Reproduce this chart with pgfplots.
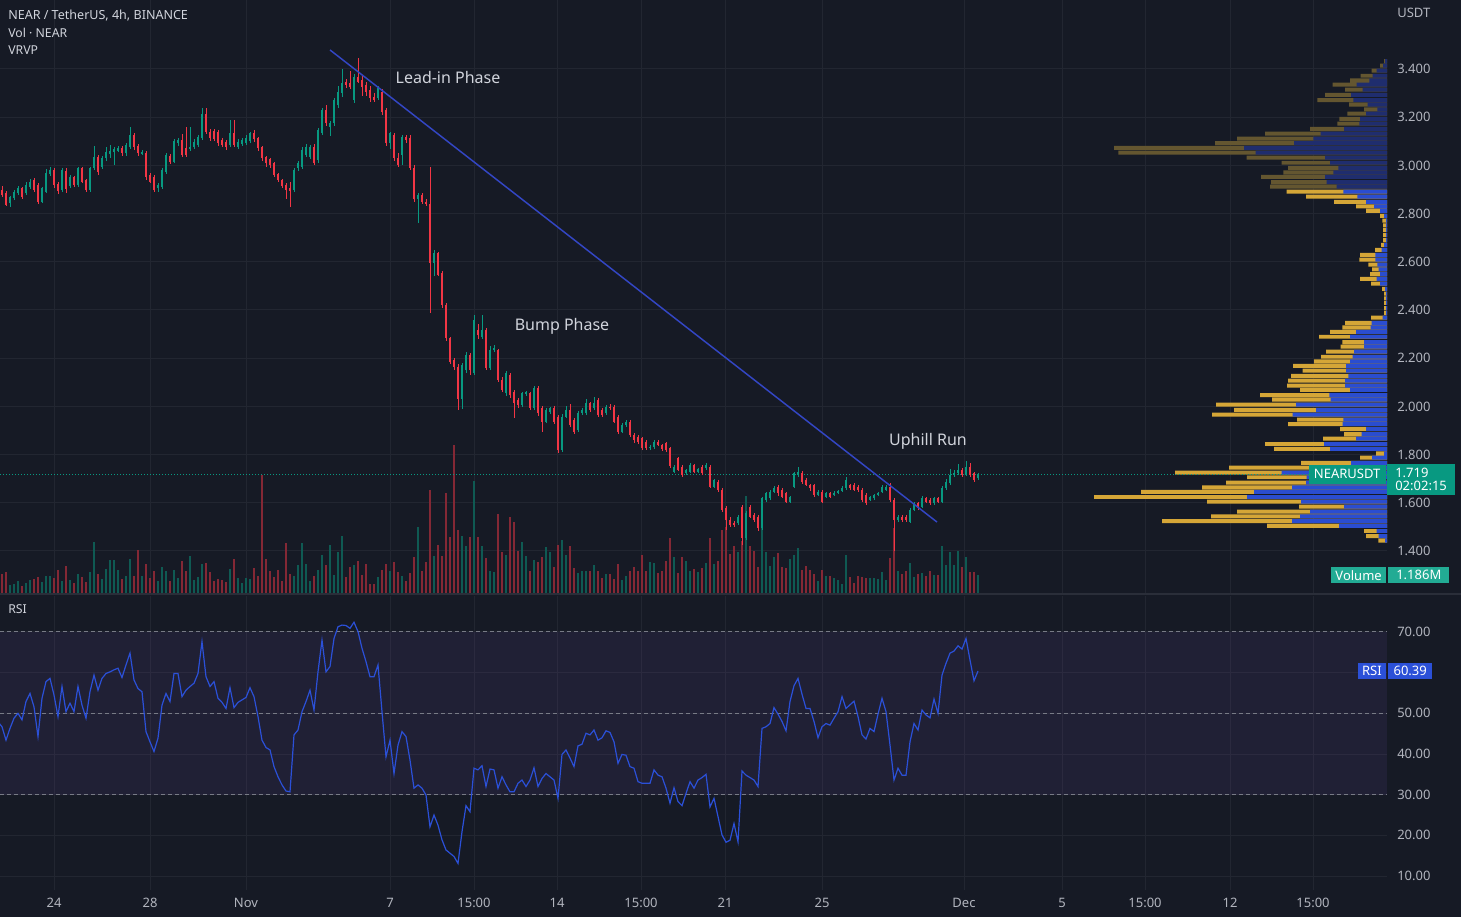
\documentclass[border=0pt]{standalone}
\usepackage{fontspec}
\setmainfont{Noto Sans}
\usepackage{pgfplots}
\usepackage{pgfplotstable}
\pgfplotsset{compat=1.18}
\definecolor{bg}{HTML}{161A25}
\definecolor{gridc}{HTML}{222631}
\definecolor{tickc}{HTML}{B2B5BE}
\definecolor{legc}{HTML}{D1D4DC}
\definecolor{upc}{HTML}{089981}
\definecolor{dnc}{HTML}{F23645}
\definecolor{volup}{HTML}{0F5A53}
\definecolor{voldn}{HTML}{842835}
\definecolor{trendc}{HTML}{3346C4}
\definecolor{rsic}{HTML}{2B50D8}
\definecolor{bandc}{RGB}{126,87,194}
\definecolor{dashc}{HTML}{787B86}
\definecolor{vpy}{HTML}{D5A637}
\definecolor{vpb}{HTML}{2A4DD0}
\definecolor{vpyF}{HTML}{645630}
\definecolor{vpbF}{HTML}{1F2D6E}
\definecolor{volbox}{HTML}{22AB94}
\definecolor{sepc}{HTML}{2A2E39}
\newcommand{\tf}{\fontsize{9.75}{11.7}\selectfont}

\pgfplotstableread{
k o h l c v
-61 2.898 2.915 2.870 2.877 1.27
-60 2.884 2.895 2.830 2.835 1.38
-59 2.843 2.875 2.826 2.870 0.51
-58 2.863 2.898 2.855 2.891 0.60
-57 2.884 2.915 2.878 2.905 0.78
-56 2.905 2.912 2.862 2.870 0.49
-55 2.884 2.930 2.878 2.919 0.67
-54 2.909 2.945 2.902 2.932 0.85
-53 2.939 2.948 2.890 2.898 0.93
-52 2.919 2.925 2.840 2.849 1.05
-51 2.849 2.912 2.842 2.905 0.73
-50 2.891 2.985 2.885 2.970 1.11
-49 2.964 2.995 2.955 2.981 1.11
-48 2.981 2.990 2.905 2.919 1.00
-47 2.923 2.930 2.880 2.895 1.55
-46 2.898 2.990 2.890 2.981 0.78
-45 2.978 2.988 2.885 2.900 1.78
-44 2.914 2.960 2.905 2.950 0.89
-43 2.950 2.958 2.910 2.919 0.67
-42 2.919 2.995 2.910 2.988 1.27
-41 2.988 2.995 2.925 2.932 1.05
-40 2.939 2.945 2.890 2.898 0.73
-39 2.898 2.995 2.890 2.988 1.38
-38 2.988 3.080 2.980 3.036 3.40
-37 3.036 3.045 2.960 2.974 1.27
-36 2.995 3.040 2.985 3.029 0.95
-35 3.029 3.075 3.020 3.057 1.62
-34 3.047 3.085 3.030 3.061 2.22
-33 3.057 3.075 3.000 3.066 2.22
-32 3.061 3.080 3.055 3.071 1.55
-31 3.071 3.080 3.040 3.050 0.95
-30 3.050 3.095 3.040 3.085 1.13
-29 3.078 3.160 3.070 3.126 2.27
-28 3.126 3.135 3.065 3.078 1.15
-27 3.080 3.090 3.040 3.050 2.89
-26 3.050 3.065 3.045 3.057 1.11
-25 3.053 3.060 2.940 2.953 1.93
-24 2.960 2.968 2.925 2.932 1.00
-23 2.953 2.960 2.890 2.898 1.49
-22 2.905 2.925 2.890 2.919 0.78
-21 2.909 2.990 2.900 2.981 1.71
-20 2.974 3.050 2.965 3.043 1.45
-19 3.039 3.048 3.005 3.015 0.82
-18 3.015 3.110 3.008 3.103 1.55
-17 3.091 3.112 3.080 3.105 1.00
-16 3.105 3.130 3.035 3.043 2.11
-15 3.071 3.160 3.035 3.043 1.45
-14 3.066 3.160 3.058 3.078 2.47
-13 3.078 3.108 3.070 3.098 0.89
-12 3.085 3.125 3.078 3.116 1.05
-11 3.112 3.240 3.105 3.213 1.93
-10 3.213 3.240 3.130 3.140 2.00
-9 3.140 3.150 3.100 3.112 1.38
-8 3.144 3.150 3.100 3.108 0.78
-7 3.140 3.148 3.080 3.094 0.95
-6 3.105 3.112 3.075 3.085 0.89
-5 3.098 3.105 3.065 3.078 0.73
-4 3.085 3.190 3.078 3.133 1.60
-3 3.133 3.188 3.075 3.085 2.29
-2 3.078 3.108 3.070 3.098 1.00
-1 3.089 3.115 3.080 3.105 0.67
0 3.094 3.125 3.085 3.112 1.00
1 3.102 3.140 3.095 3.133 0.95
2 3.133 3.145 3.098 3.108 1.67
3 3.112 3.118 3.060 3.071 1.11
4 3.075 3.082 3.020 3.029 7.87
5 3.033 3.040 2.995 3.008 2.27
6 3.025 3.030 2.990 3.001 1.45
7 3.008 3.015 2.950 2.960 1.05
8 2.964 2.970 2.930 2.939 1.53
9 2.939 2.945 2.905 2.914 0.78
10 2.919 2.925 2.860 2.898 3.33
11 2.905 2.930 2.826 2.895 1.27
12 2.898 2.990 2.890 2.981 1.11
13 2.988 3.020 2.975 3.009 1.85
14 2.995 3.075 2.985 3.064 3.33
15 3.043 3.090 3.035 3.078 1.93
16 3.036 3.085 3.025 3.078 0.78
17 3.078 3.090 3.000 3.009 1.11
18 3.022 3.155 3.010 3.147 1.55
19 3.133 3.240 3.125 3.230 2.55
20 3.230 3.250 3.165 3.175 1.85
21 3.161 3.185 3.120 3.175 3.22
22 3.175 3.280 3.165 3.271 1.22
23 3.251 3.330 3.240 3.306 2.73
24 3.299 3.400 3.285 3.340 3.78
25 3.347 3.360 3.320 3.334 1.05
26 3.343 3.390 3.315 3.327 1.75
27 3.271 3.380 3.260 3.368 1.89
28 3.368 3.444 3.340 3.347 2.11
29 3.354 3.370 3.290 3.327 1.22
30 3.334 3.345 3.290 3.306 1.93
31 3.313 3.330 3.265 3.278 0.60
32 3.285 3.300 3.262 3.271 0.60
33 3.278 3.330 3.270 3.320 1.05
34 3.306 3.315 3.210 3.223 1.55
35 3.230 3.240 3.080 3.092 1.93
36 3.092 3.140 3.070 3.133 1.49
37 3.126 3.135 3.020 3.030 2.05
38 3.030 3.050 2.995 3.002 1.38
39 3.043 3.125 3.000 3.119 1.11
40 3.119 3.128 3.095 3.106 0.78
41 3.112 3.125 2.980 2.990 1.33
42 2.990 3.000 2.850 2.860 2.38
43 2.860 2.885 2.760 2.877 4.38
44 2.877 2.885 2.840 2.850 1.45
45 2.850 2.860 2.830 2.840 2.05
46 2.840 2.995 2.387 2.595 6.87
47 2.595 2.650 2.540 2.635 2.45
48 2.635 2.640 2.540 2.545 3.22
49 2.552 2.560 2.410 2.421 2.45
50 2.421 2.430 2.270 2.282 6.67
51 2.282 2.290 2.175 2.186 3.71
52 2.193 2.200 2.150 2.165 9.85
53 2.165 2.175 1.985 2.030 4.22
54 2.030 2.180 1.990 2.170 3.78
55 2.150 2.225 2.140 2.213 3.11
56 2.213 2.220 2.130 2.151 3.71
57 2.137 2.380 2.130 2.358 7.45
58 2.317 2.340 2.280 2.296 3.71
59 2.290 2.380 2.280 2.317 3.11
60 2.317 2.325 2.150 2.158 2.33
61 2.158 2.250 2.150 2.234 1.49
62 2.234 2.255 2.225 2.241 1.38
63 2.234 2.240 2.100 2.110 5.27
64 2.110 2.120 2.060 2.068 2.73
65 2.054 2.145 2.045 2.137 2.55
66 2.130 2.140 2.035 2.047 5.05
67 2.061 2.070 1.950 2.013 4.71
68 2.026 2.035 1.995 2.006 2.78
69 2.006 2.060 1.998 2.054 3.38
70 2.054 2.065 2.045 2.058 2.45
71 2.054 2.060 1.985 1.992 1.49
72 1.992 2.085 1.985 2.075 2.22
73 2.075 2.085 1.960 1.971 2.07
74 1.992 2.000 1.895 1.937 2.38
75 1.937 1.995 1.930 1.985 3.05
76 1.978 1.998 1.970 1.992 2.71
77 1.992 2.000 1.925 1.937 1.71
78 1.957 1.965 1.805 1.819 3.22
79 1.819 1.970 1.810 1.957 3.51
80 1.957 2.000 1.950 1.985 2.55
81 1.985 2.010 1.915 1.923 3.11
82 1.944 1.950 1.885 1.895 1.67
83 1.902 1.980 1.895 1.971 1.33
84 1.971 1.995 1.965 1.985 1.49
85 1.971 2.030 1.965 2.013 1.45
86 2.013 2.020 1.978 1.985 1.49
87 1.992 2.040 1.985 2.013 1.85
88 2.026 2.035 1.955 1.964 1.49
89 1.985 1.995 1.955 1.964 1.00
90 1.971 2.005 1.965 1.999 1.29
91 1.999 2.012 1.985 1.992 1.27
92 1.999 2.005 1.930 1.937 0.93
93 1.957 1.965 1.885 1.895 1.93
94 1.895 1.930 1.888 1.923 0.89
95 1.923 1.945 1.915 1.937 1.11
96 1.937 1.942 1.875 1.881 1.45
97 1.881 1.888 1.850 1.861 1.71
98 1.874 1.880 1.845 1.854 1.49
99 1.867 1.872 1.818 1.826 2.51
100 1.854 1.860 1.820 1.826 1.45
101 1.826 1.840 1.820 1.833 2.05
102 1.830 1.862 1.825 1.854 2.00
103 1.854 1.860 1.835 1.840 1.33
104 1.840 1.845 1.815 1.822 1.49
105 1.847 1.852 1.812 1.819 2.15
106 1.826 1.832 1.745 1.753 3.67
107 1.729 1.758 1.722 1.750 2.38
108 1.784 1.790 1.730 1.736 1.33
109 1.750 1.755 1.708 1.715 2.38
110 1.722 1.742 1.715 1.736 2.11
111 1.729 1.765 1.722 1.757 1.45
112 1.757 1.762 1.722 1.729 1.62
113 1.729 1.745 1.722 1.740 1.38
114 1.750 1.758 1.715 1.722 1.67
115 1.743 1.765 1.738 1.757 2.00
116 1.750 1.758 1.660 1.667 3.67
117 1.667 1.700 1.660 1.695 1.93
118 1.688 1.695 1.645 1.653 2.15
119 1.653 1.660 1.562 1.570 4.22
120 1.577 1.585 1.487 1.529 4.38
121 1.529 1.540 1.500 1.508 2.60
122 1.515 1.525 1.500 1.508 3.15
123 1.515 1.550 1.508 1.543 2.71
124 1.584 1.590 1.425 1.453 3.45
125 1.453 1.565 1.445 1.556 6.45
126 1.584 1.592 1.535 1.543 3.15
127 1.550 1.558 1.520 1.529 2.78
128 1.543 1.550 1.485 1.494 1.71
129 1.494 1.625 1.488 1.619 4.55
130 1.612 1.645 1.605 1.639 2.71
131 1.619 1.652 1.612 1.646 1.78
132 1.646 1.668 1.640 1.660 2.38
133 1.667 1.675 1.630 1.639 2.67
134 1.653 1.660 1.618 1.625 1.71
135 1.639 1.645 1.598 1.605 1.67
136 1.605 1.630 1.598 1.625 2.29
137 1.667 1.728 1.660 1.722 2.55
138 1.715 1.750 1.708 1.729 3.00
139 1.722 1.730 1.680 1.688 1.55
140 1.695 1.702 1.668 1.674 1.78
141 1.674 1.680 1.650 1.660 1.55
142 1.674 1.680 1.625 1.633 1.27
143 1.633 1.652 1.628 1.646 0.78
144 1.646 1.652 1.598 1.605 1.55
145 1.625 1.645 1.620 1.639 1.11
146 1.639 1.645 1.618 1.625 1.15
147 1.632 1.648 1.628 1.642 1.00
148 1.642 1.655 1.638 1.650 0.89
149 1.650 1.668 1.645 1.660 0.60
150 1.660 1.705 1.655 1.695 2.51
151 1.674 1.680 1.652 1.660 1.05
152 1.674 1.682 1.648 1.653 0.67
153 1.667 1.672 1.645 1.653 1.15
154 1.653 1.660 1.605 1.612 1.05
155 1.633 1.640 1.592 1.598 1.00
156 1.612 1.630 1.608 1.625 1.00
157 1.618 1.638 1.612 1.632 1.00
158 1.632 1.645 1.628 1.640 0.95
159 1.646 1.675 1.640 1.667 1.38
160 1.653 1.672 1.648 1.667 0.89
161 1.667 1.682 1.605 1.612 2.33
162 1.612 1.618 1.400 1.529 4.33
163 1.529 1.550 1.522 1.543 1.45
164 1.543 1.550 1.522 1.529 1.27
165 1.543 1.550 1.522 1.529 1.49
166 1.522 1.578 1.515 1.570 2.00
167 1.570 1.605 1.565 1.598 1.05
168 1.598 1.605 1.570 1.577 1.27
169 1.584 1.628 1.578 1.619 1.33
170 1.619 1.625 1.598 1.605 1.11
171 1.612 1.618 1.592 1.598 1.45
172 1.598 1.625 1.592 1.619 1.22
173 1.619 1.625 1.598 1.605 1.18
174 1.605 1.668 1.600 1.660 3.15
175 1.660 1.700 1.655 1.688 1.85
176 1.681 1.740 1.675 1.715 2.71
177 1.715 1.735 1.708 1.722 1.85
178 1.722 1.760 1.715 1.736 2.78
179 1.736 1.745 1.708 1.715 1.71
180 1.715 1.772 1.710 1.750 2.38
181 1.750 1.765 1.708 1.715 1.38
182 1.722 1.728 1.688 1.695 1.38
183 1.702 1.725 1.695 1.719 1.186
}\candles

\pgfplotstableread{
k r
-62 47.9
-61 46.7
-60 43.4
-59 46.3
-58 48.8
-57 50.0
-56 48.4
-55 52.9
-54 54.9
-53 51.6
-52 44.3
-51 53.7
-50 57.8
-49 58.6
-48 54.5
-47 49.2
-46 56.6
-45 50.4
-44 52.5
-43 50.4
-42 56.6
-41 52.0
-40 48.8
-39 55.3
-38 59.4
-37 55.7
-36 58.6
-35 59.8
-34 60.2
-33 60.7
-32 61.1
-31 58.8
-30 61.9
-29 64.8
-28 58.2
-27 56.1
-26 55.3
-25 45.5
-24 43.0
-23 40.6
-22 43.9
-21 52.0
-20 54.9
-19 52.9
-18 59.8
-17 59.8
-16 54.1
-15 55.7
-14 56.6
-13 57.4
-12 59.8
-11 67.6
-10 59.0
-9 56.6
-8 57.8
-7 53.7
-6 52.7
-5 51.2
-4 56.3
-3 51.4
-2 52.7
-1 53.3
0 53.9
1 56.3
2 54.1
3 49.2
4 43.4
5 41.6
6 41.0
7 36.9
8 34.4
9 32.4
10 30.9
11 30.7
12 44.7
13 45.9
14 50.4
15 52.9
16 55.7
17 50.8
18 60.2
19 68.0
20 60.2
21 61.5
22 68.4
23 71.3
24 71.7
25 71.6
26 70.9
27 72.4
28 70.1
29 66.0
30 62.7
31 59.0
32 59.0
33 61.9
34 50.4
35 39.3
36 43.4
37 35.2
38 42.2
39 45.5
40 44.3
41 38.5
42 31.6
43 32.4
44 31.6
45 29.9
46 22.1
47 25.0
48 22.5
49 18.9
50 16.4
51 15.6
52 14.8
53 13.1
54 20.9
55 27.3
56 25.8
57 36.5
58 36.1
59 37.1
60 32.0
61 36.3
62 36.1
63 31.6
64 34.4
65 32.4
66 30.7
67 30.7
68 32.8
69 33.6
70 32.0
71 33.6
72 36.6
73 32.0
74 34.0
75 35.2
77 33.6
78 29.1
79 39.9
80 41.0
81 39.0
82 36.9
83 42.0
84 42.4
85 45.1
86 44.7
87 45.9
88 43.4
89 44.0
90 45.7
91 45.3
92 43.0
93 37.7
94 39.9
95 39.7
96 36.9
97 36.5
98 33.2
99 32.8
101 32.8
102 36.1
103 34.8
104 34.4
105 31.6
106 27.9
107 31.7
108 28.3
109 27.3
110 30.3
111 33.2
112 31.6
113 33.6
114 34.2
115 35.0
116 27.0
117 29.1
118 24.6
119 20.1
120 18.3
121 18.8
122 22.9
123 18.4
124 35.8
125 34.8
127 33.6
128 32.0
129 46.3
130 46.7
131 47.5
132 51.4
133 49.8
134 48.0
135 45.7
136 52.9
137 56.8
138 58.6
139 54.7
140 51.2
141 51.2
142 48.0
143 44.0
144 46.7
145 47.5
146 47.1
147 48.8
148 50.4
149 54.1
150 51.2
152 53.0
153 49.2
154 44.7
155 43.7
156 46.3
157 45.5
158 49.8
159 53.7
160 50.4
161 42.2
162 33.6
163 36.5
164 34.8
165 34.8
166 43.0
167 47.5
168 45.9
169 50.8
170 49.6
171 48.9
172 53.5
173 50.0
174 59.4
175 62.3
176 64.8
177 65.3
178 66.6
179 65.8
180 68.4
181 63.1
182 58.0
183 60.39
}\rsi

\pgfplotstableread{
p t u
3.433 3 2
3.414 7 4
3.393 15.3 10.3
3.372 26.3 14.3
3.353 37 17.7
3.335 54.3 30.3
3.314 42 24.3
3.293 62 36
3.271 69.7 33.7
3.252 38 19.3
3.233 23 9.7
3.215 39.7 21
3.193 47.7 27
3.173 49.7 27.7
3.152 77 43
3.132 122 66.3
3.111 150 73.7
3.092 172 93
3.073 273 143
3.053 268.7 131.3
3.032 140.3 62
3.011 105.3 57
2.990 99 48.7
2.971 103.7 53.7
2.952 126 62
2.931 116 60.3
2.912 117 50.3
}\vpA

\pgfplotstableread{
p t u
2.891 100.3 43.7
2.870 81 29.7
2.849 53 21
2.830 31 13
2.811 21 7
2.791 7 3
2.771 4.7 1
2.751 4 1
2.731 4 1
2.711 4 1
2.690 4 1
2.670 6 3
2.649 12 5.3
2.629 27 11.7
2.609 27.7 11.7
2.588 18.7 9.7
2.569 15 8.3
2.549 17 7
2.529 27 10.3
2.509 16 7
2.488 5 2
2.468 3 1
2.448 3 1
2.429 3 1
2.408 3 1
2.388 3 1
2.368 16 4.3
2.347 42 15.3
2.328 44.7 16.3
2.309 57 31
2.289 68 37
2.267 44.7 23
2.248 46.3 23
2.227 61 33
2.206 66 34.3
2.187 73 37
2.168 94 41
2.148 84.3 41
2.127 96 38.7
2.107 99 42
2.086 100 42
2.068 87 37
2.047 127 57.7
2.028 115 56.3
2.007 171 91
1.986 153 71
1.966 175 94.3
1.945 90 43.7
1.926 99 44.3
1.906 47 21
1.885 43 25.3
1.866 64 31
1.844 122 63
1.824 113 57
1.805 11 3
1.787 27 15
1.766 86 36
1.746 158 77
1.725 212 105.3
1.706 140 80.3
1.684 161 81
1.664 185 95
1.645 246 133
1.624 293 140
1.605 180 86
1.584 88 43
1.563 150 77
1.544 176 87
1.524 225 95
1.504 120 48
1.483 23 10.3
1.462 21 8.3
1.443 8.7 2
}\vpB

\pgfplotsset{
  base/.style={scale only axis, width=1040.25pt, xmin=-61.5, xmax=285.25, clip mode=individual},
  pricey/.style={height=444.75pt, ymin=1.2257, ymax=3.6863, at={(0pt,0pt)}, anchor=north west},
  dates/.style={xtick={-48,-24,0,36,57,77.75,98.75,119.75,144,179.5,204,224.75,246,266.75}},
}

\begin{document}
\begin{tikzpicture}
\path[use as bounding box] (0pt,0pt) rectangle (1095.75pt,-687.75pt);
\fill[bg] (0pt,0pt) rectangle (1095.75pt,-687.75pt);

% price panel: grid and scale
\begin{axis}[base, pricey, dates, xticklabels={},
  axis line style={draw=none}, major tick length=0pt,
  ytick={1.4,1.6,1.8,2.0,2.2,2.4,2.6,2.8,3.0,3.2,3.4}, yticklabel pos=right,
  yticklabel style={/pgf/number format/fixed, /pgf/number format/fixed zerofill, /pgf/number format/precision=3, anchor=west, inner sep=0pt, xshift=7.5pt},
  xmajorgrids, ymajorgrids, grid style={gridc, line width=0.75pt},
  /pgf/number format/assume math mode=true,
  every tick label/.append style={font=\tf, text=tickc}]
\addplot[draw=none] coordinates {(0,2)};
\end{axis}

% volume
\begin{axis}[base, at={(0pt,0pt)}, anchor=north west, height=444.75pt, ymin=0, ymax=39.53, hide axis]
\addplot[ycomb, mark=none, draw=volup, line width=1.95pt, restrict expr to domain={\thisrow{c}-\thisrow{o}}{0:10}] table[x=k, y=v] {\candles};
\addplot[ycomb, mark=none, draw=voldn, line width=1.95pt, restrict expr to domain={\thisrow{c}-\thisrow{o}}{-10:-0.00001}] table[x=k, y=v] {\candles};
\node[anchor=east, fill=volbox, text=white, font=\tf, inner xsep=3pt, inner ysep=0pt, minimum height=12pt, xshift=-0.75pt] at (axis cs:285.25,1.186) {Volume};
\node[anchor=west, fill=volbox, text=white, font=\tf, inner xsep=6pt, inner ysep=0pt, minimum height=12pt, xshift=0.75pt] at (axis cs:285.25,1.186) {1.186M};
\end{axis}

% visible range volume profile
\begin{axis}[scale only axis, width=1040.25pt, pricey, xmin=0, xmax=1387, x dir=reverse, hide axis, clip mode=individual]
\addplot[xbar, bar shift=0pt, bar width=0.0165, fill=vpyF, draw=none] table[x=t, y=p] {\vpA};
\addplot[xbar, bar shift=0pt, bar width=0.0165, fill=vpbF, draw=none] table[x=u, y=p] {\vpA};
\addplot[xbar, bar shift=0pt, bar width=0.0165, fill=vpy, draw=none] table[x=t, y=p] {\vpB};
\addplot[xbar, bar shift=0pt, bar width=0.0165, fill=vpb, draw=none] table[x=u, y=p] {\vpB};
\end{axis}

% candles
\begin{axis}[base, pricey, hide axis]
\addplot[upc, dash pattern=on 0.75pt off 1.5pt, line width=0.75pt] coordinates {(-61.5,1.719) (285.25,1.719)};
\addplot[draw=none, mark=none, restrict expr to domain={\thisrow{c}-\thisrow{o}}{0:10},
  error bars/.cd, y dir=both, y explicit, error mark=none, error bar style={draw=upc, solid, line width=0.75pt}]
  table[x=k, y expr={(\thisrow{h}+\thisrow{l})/2}, y error expr={(\thisrow{h}-\thisrow{l})/2}] {\candles};
\addplot[draw=none, mark=none, restrict expr to domain={\thisrow{c}-\thisrow{o}}{-10:-0.00001},
  error bars/.cd, y dir=both, y explicit, error mark=none, error bar style={draw=dnc, solid, line width=0.75pt}]
  table[x=k, y expr={(\thisrow{h}+\thisrow{l})/2}, y error expr={(\thisrow{h}-\thisrow{l})/2}] {\candles};
\addplot[draw=none, mark=none, restrict expr to domain={\thisrow{c}-\thisrow{o}}{0:10},
  error bars/.cd, y dir=both, y explicit, error mark=none, error bar style={draw=upc, solid, line width=2.2pt}]
  table[x=k, y expr={(\thisrow{o}+\thisrow{c})/2}, y error expr={max(abs(\thisrow{c}-\thisrow{o})/2,0.0015)}] {\candles};
\addplot[draw=none, mark=none, restrict expr to domain={\thisrow{c}-\thisrow{o}}{-10:-0.00001},
  error bars/.cd, y dir=both, y explicit, error mark=none, error bar style={draw=dnc, solid, line width=2.2pt}]
  table[x=k, y expr={(\thisrow{o}+\thisrow{c})/2}, y error expr={max(abs(\thisrow{c}-\thisrow{o})/2,0.0015)}] {\candles};
\addplot[trendc, line width=1.1pt] coordinates {(21,3.479) (172.75,1.520)};
\node[text=legc, font=\fontsize{12}{14}\selectfont] at (axis cs:50.5,3.363) {Lead-in Phase};
\node[text=legc, font=\fontsize{12}{14}\selectfont] at (axis cs:79,2.334) {Bump Phase};
\node[text=legc, font=\fontsize{12}{14}\selectfont] at (axis cs:170.5,1.856) {Uphill Run};
\node[anchor=east, fill=upc, text=white, font=\tf, inner xsep=4pt, inner ysep=0pt, minimum height=14.25pt, xshift=-0.75pt] at (axis cs:285.25,1.719) {NEARUSDT};
\node[anchor=west, fill=upc, text=white, font=\fontsize{9.75}{9.75}\selectfont, align=left, inner xsep=6pt, inner ysep=0pt, minimum height=23.25pt, yshift=-4.1pt] at (axis cs:285.25,1.719) {1.719\\02:02:15};
\end{axis}

\draw[sepc, line width=1.5pt] (0pt,-445.5pt) -- (1095.75pt,-445.5pt);

% RSI panel
\begin{axis}[base, dates, at={(0pt,-447pt)}, anchor=north west, height=220.5pt, ymin=6.56, ymax=78.85,
  axis line style={draw=none}, major tick length=0pt,
  xticklabels={24,28,\textbf{Nov},7,15:00,14,15:00,21,25,\textbf{Dec},5,15:00,12,15:00},
  xticklabel style={anchor=base, yshift=-13.2pt},
  ytick={10,20,30,40,50,70}, yticklabel pos=right,
  extra y ticks={60}, extra y tick labels={},
  yticklabel style={/pgf/number format/fixed, /pgf/number format/fixed zerofill, /pgf/number format/precision=2, anchor=west, inner sep=0pt, xshift=7.5pt},
  xmajorgrids, ymajorgrids, grid style={gridc, line width=0.75pt},
  extra tick style={grid style={gridc, line width=0.75pt}, major tick length=0pt},
  /pgf/number format/assume math mode=true,
  every tick label/.append style={font=\tf, text=tickc}]
\fill[bandc, fill opacity=0.1] (axis cs:-61.5,30) rectangle (axis cs:285.25,70);
\addplot[dashc, dash pattern=on 3pt off 2.25pt, line width=0.75pt] coordinates {(-61.5,70) (285.25,70)};
\addplot[dashc, dash pattern=on 3pt off 2.25pt, line width=0.75pt] coordinates {(-61.5,50) (285.25,50)};
\addplot[dashc, dash pattern=on 3pt off 2.25pt, line width=0.75pt] coordinates {(-61.5,30) (285.25,30)};
\addplot[rsic, line width=0.9pt, mark=none] table[x=k, y=r] {\rsi};
\node[anchor=east, fill=rsic, text=white, font=\tf, inner xsep=3pt, inner ysep=0pt, minimum height=12pt, xshift=-0.75pt] at (axis cs:285.25,60.39) {RSI};
\node[anchor=west, fill=rsic, text=white, font=\tf, inner xsep=4pt, inner ysep=0pt, minimum height=12pt, xshift=0.75pt] at (axis cs:285.25,60.39) {60.39};
\end{axis}

\node[anchor=west, inner sep=0pt, text=legc, font=\fontsize{9.4}{10}\selectfont\bfseries] at (6pt,-12pt) {NEAR / TetherUS, 4h, BINANCE};
\node[anchor=west, inner sep=0pt, text=legc, font=\fontsize{9.2}{10}\selectfont] at (6pt,-24.75pt) {Vol · NEAR};
\node[anchor=west, inner sep=0pt, text=legc, font=\fontsize{9.2}{10}\selectfont] at (6pt,-37.5pt) {VRVP};
\node[anchor=west, inner sep=0pt, text=legc, font=\fontsize{9.2}{10}\selectfont] at (6pt,-456.75pt) {RSI};
\node[anchor=west, inner sep=0pt, text=tickc, font=\tf] at (1047.75pt,-9.75pt) {USDT};
\end{tikzpicture}
\end{document}
